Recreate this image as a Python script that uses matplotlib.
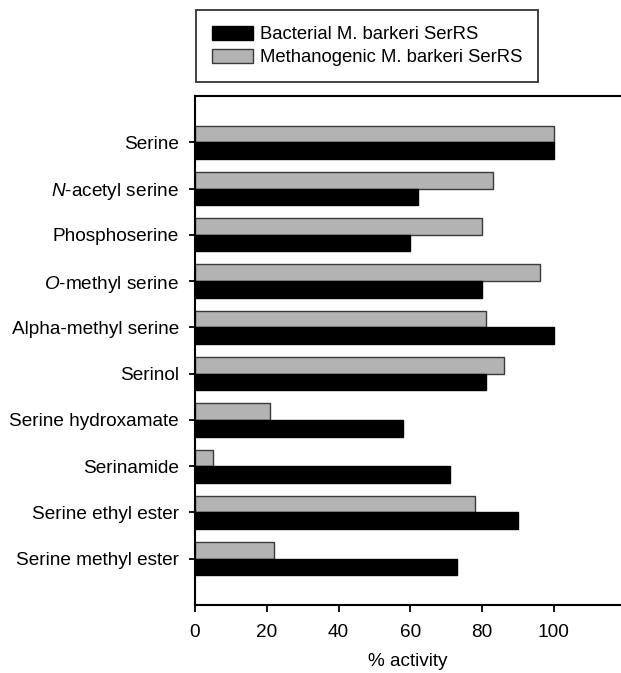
import numpy as np
import matplotlib
matplotlib.use("Agg")
import matplotlib.pyplot as plt
from matplotlib.patches import Patch

plt.rcParams['font.family'] = ['Liberation Sans', 'DejaVu Sans']
plt.rcParams['mathtext.fontset'] = 'custom'
plt.rcParams['mathtext.rm'] = 'Liberation Sans'
plt.rcParams['mathtext.it'] = 'Liberation Sans:italic'

# substrates, top to bottom
substrates = ['Serine', r'$\mathit{N}$-acetyl serine', 'Phosphoserine',
              r'$\mathit{O}$-methyl serine', 'Alpha-methyl serine', 'Serinol',
              'Serine hydroxamate', 'Serinamide', 'Serine ethyl ester',
              'Serine methyl ester']
bacterial = [100, 62, 60, 80, 100, 81, 58, 71, 90, 73]
methanogenic = [100, 83, 80, 96, 81, 86, 21, 5, 78, 22]
series_names = ['Bacterial M. barkeri SerRS', 'Methanogenic M. barkeri SerRS']

fs = 13.7
fig = plt.figure(figsize=(6.21, 6.73), dpi=100)
ax = fig.add_axes([195 / 621, 1 - 605 / 673, 1 - 195 / 621, (605 - 96) / 673])

y = np.arange(len(substrates))
h = 0.36
ax.barh(y - h / 2, methanogenic, height=h, color='#b3b3b3', edgecolor='#3a3a3a', linewidth=1.0)
ax.barh(y + h / 2, bacterial, height=h, color='black', edgecolor='black', linewidth=1.0)

ax.set_ylim(len(substrates), -1)
ax.set_xlim(0, 118.7)
ax.set_yticks(y)
ax.set_yticklabels(substrates, fontsize=fs)
ax.set_xticks([0, 20, 40, 60, 80, 100])
ax.tick_params(axis='x', labelsize=fs, length=5, width=1.3, pad=9)
ax.tick_params(axis='y', length=4.5, width=1.3, pad=7)
ax.set_xlabel('% activity', fontsize=fs, labelpad=8)

for s in ['left', 'bottom', 'top']:
    ax.spines[s].set_linewidth(1.5)
ax.spines['right'].set_visible(False)

handles = [Patch(facecolor='black', edgecolor='black'),
           Patch(facecolor='#b3b3b3', edgecolor='#3a3a3a')]
leg = fig.legend(handles, series_names, loc='upper left',
                 bbox_to_anchor=(196 / 621, 1 - 10 / 673), fontsize=13.3,
                 frameon=True, fancybox=False, edgecolor='black',
                 handlelength=2.25, handleheight=0.8, handletextpad=0.35,
                 labelspacing=0.3, borderpad=0.85, borderaxespad=0)
leg.get_frame().set_linewidth(1.3)

fig.savefig('out.png', dpi=100)
